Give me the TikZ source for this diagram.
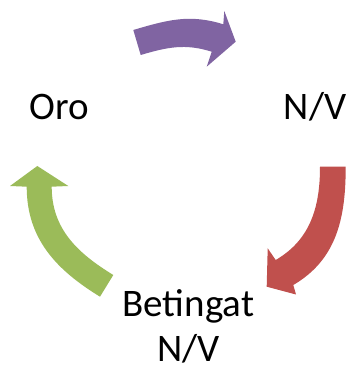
\documentclass[tikz,border=0pt]{standalone}
\usepackage{fontspec}
\setmainfont{Carlito}
\definecolor{apurple}{HTML}{8064A2}
\definecolor{ared}{HTML}{C0504D}
\definecolor{agreen}{HTML}{9BBB59}
\tikzset{
  lbl/.style={inner sep=0pt, anchor=base, font=\fontsize{39}{45}\selectfont, text=black},
}
\begin{document}
\begin{tikzpicture}[x=1pt,y=1pt]
\useasboundingbox (0,0) rectangle (347,367);
% purple arrow (Oro -> N/V)
\fill[apurple] (140.7,312) -- (133.3,337) to[out=16.5,in=162.5] (223.3,342.7)
  -- (224.3,356) -- (235.7,325.3) -- (206.7,300.3) -- (211.7,315.3)
  to[out=162.5,in=16.5] (140.7,312) -- cycle;
% red arrow (N/V -> Betingat N/V)
\fill[ared] (320,200.3) -- (345.7,200.3) to[out=-90,in=30.3] (293.3,82)
  -- (296,72.5) -- (266.7,80.3) -- (267.7,118.7) -- (275.7,107)
  to[out=30.3,in=-90] (320,200.3) -- cycle;
% green arrow (Betingat N/V -> Oro)
\fill[agreen] (37.3,201) -- (68.3,181) -- (51.7,180.3) to[out=-90,in=148.5] (113.3,92)
  -- (100,70.3) to[out=148.5,in=-90] (26.7,180.3) -- (10,181) -- cycle;
% labels
\node[lbl] (oro) at (59,247.7) {Oro};
\node[lbl] (nv) at (315,247.7) {N/V};
\node[lbl] (bet) at (188.3,50.3) {Betingat};
\node[lbl] (bnv) at (188.3,5.3) {N/V};
\end{tikzpicture}
\end{document}
